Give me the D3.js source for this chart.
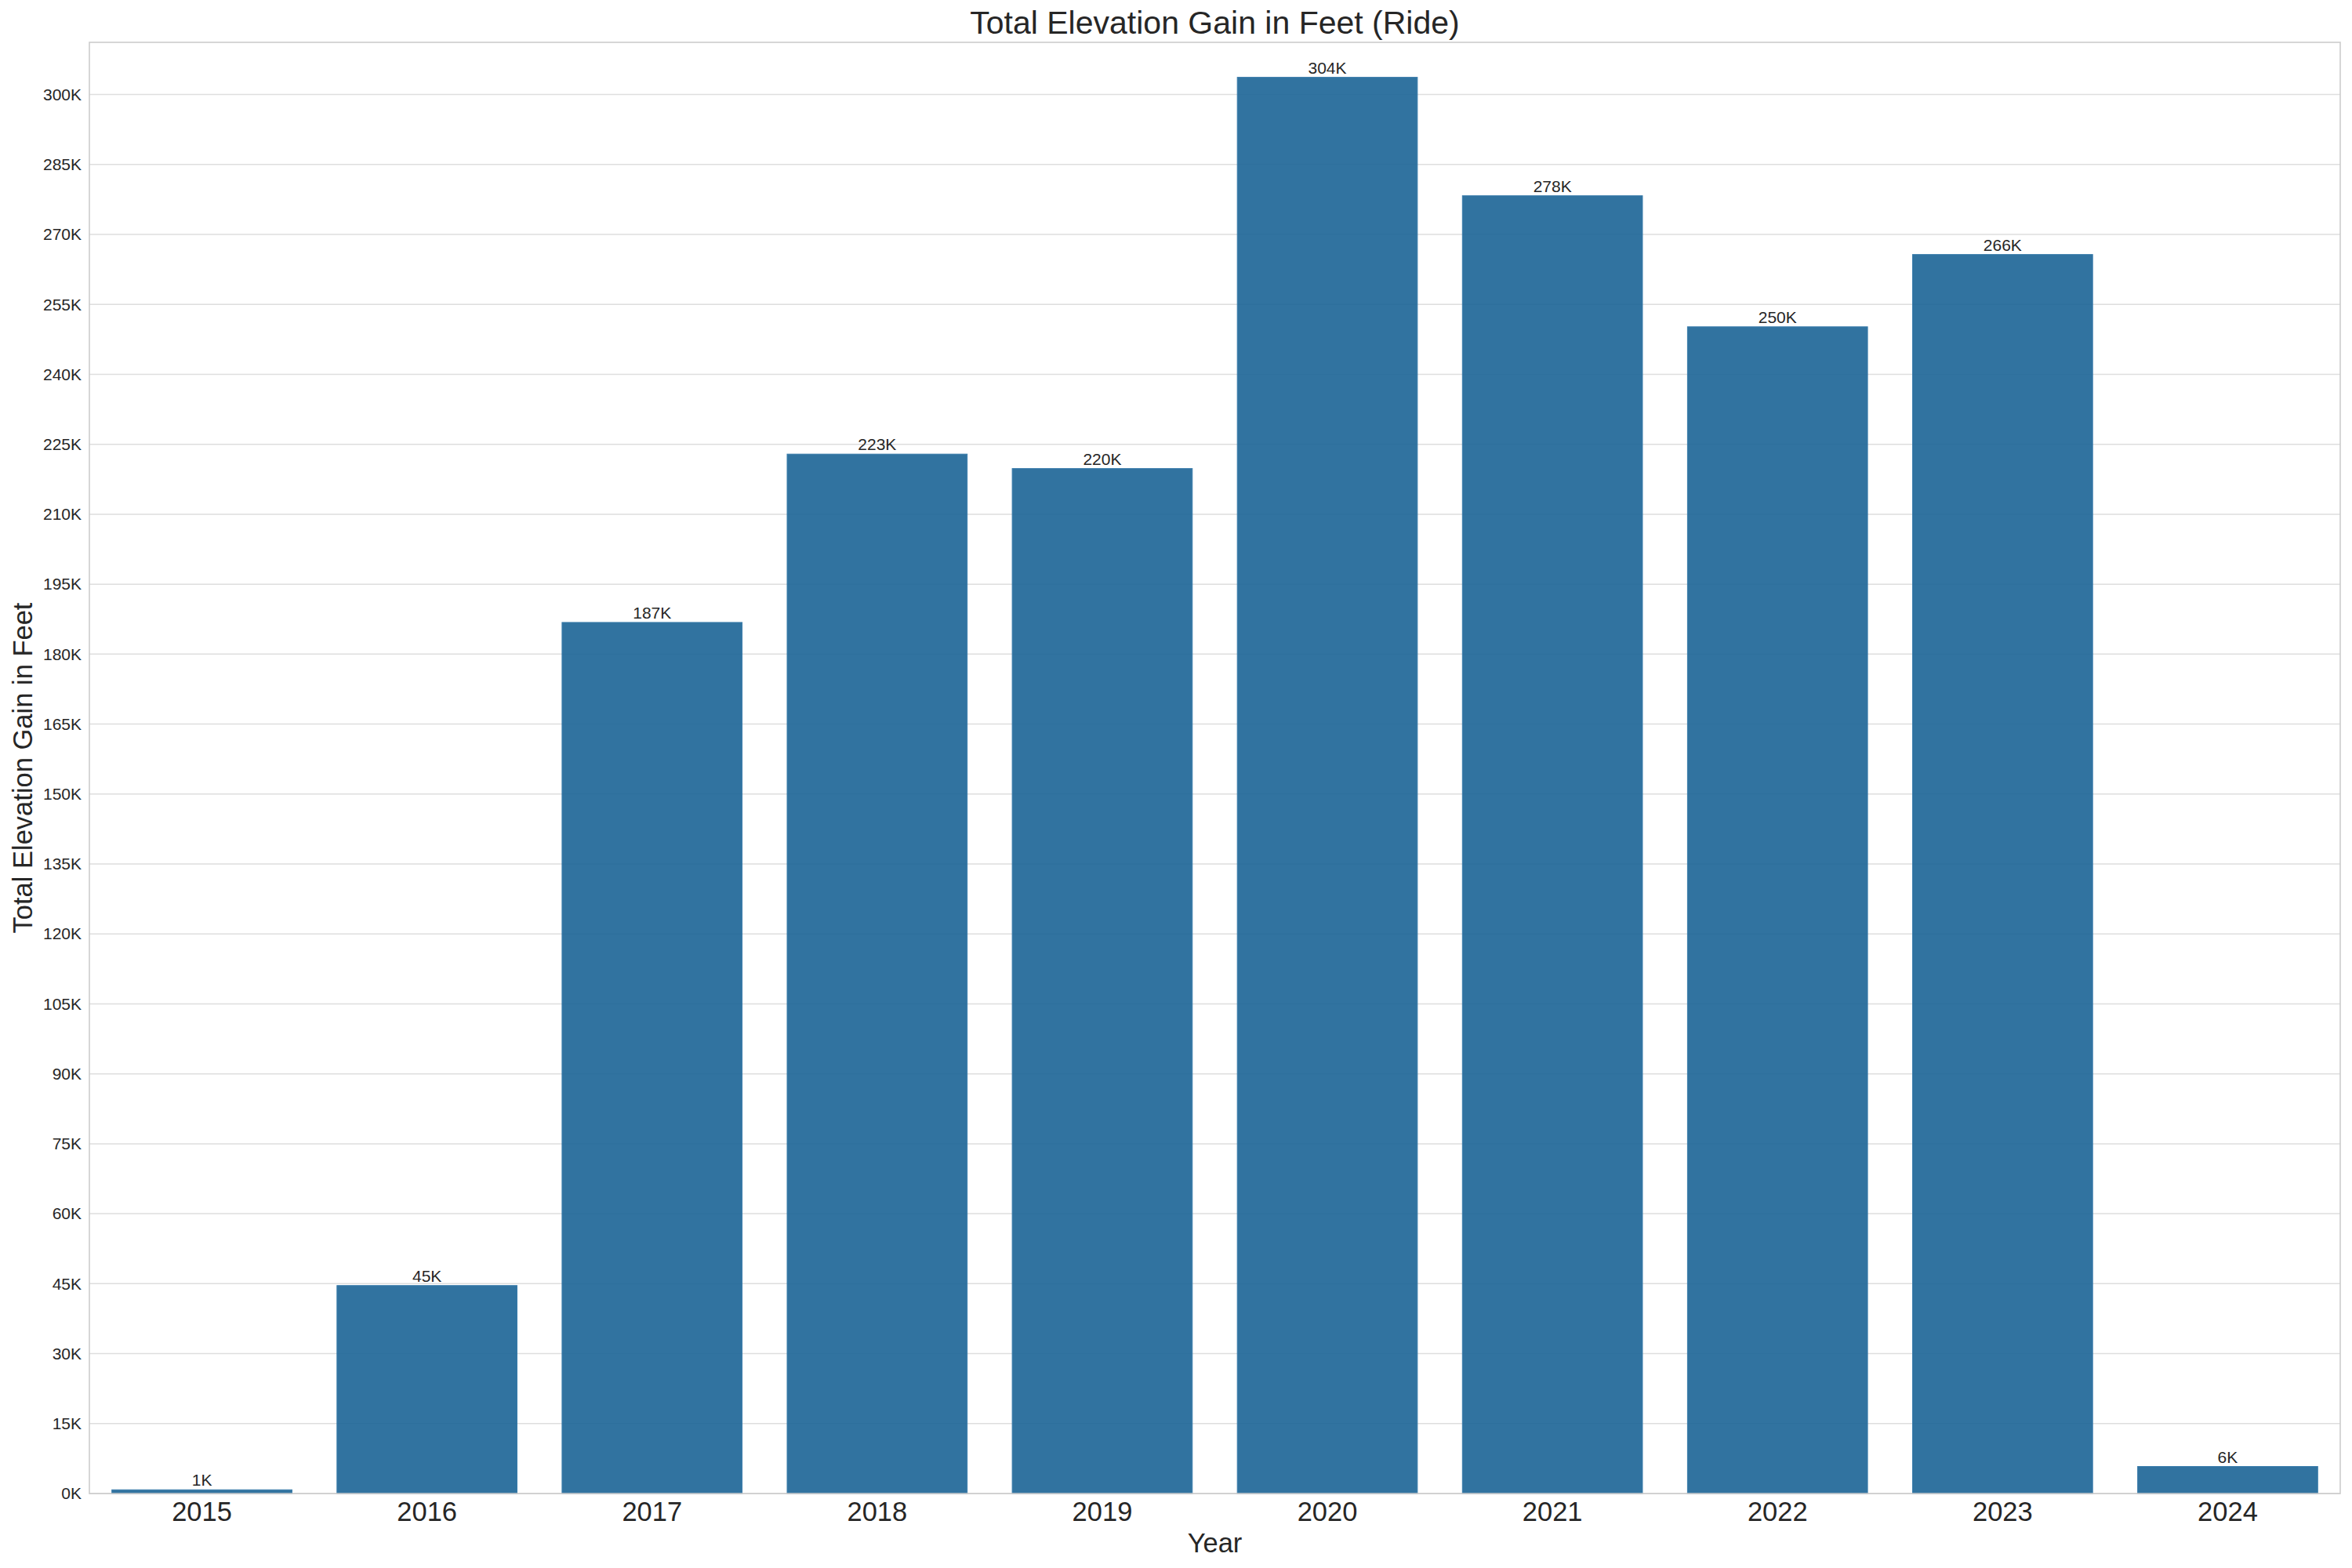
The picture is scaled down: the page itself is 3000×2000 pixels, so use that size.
<!DOCTYPE html>
<html>
<head>
<meta charset="utf-8">
<script src="https://cdn.jsdelivr.net/npm/d3@7"></script>
<style>
  body { margin: 0; background: #fff; }
  text { font-family: "Liberation Sans", Arial, sans-serif; fill: #262626; }
</style>
</head>
<body>
<div id="chart"></div>
<script>
// data
const years = ["2015", "2016", "2017", "2018", "2019", "2020", "2021", "2022", "2023", "2024"];
const elevation = [800, 44600, 186800, 222900, 219800, 303700, 278300, 250200, 265700, 5800];
const yTicks = d3.range(0, 300001, 15000);

const W = 3000, H = 2000;
const margin = {top: 54, right: 15, bottom: 95, left: 114};
const x0 = margin.left, x1 = W - margin.right,
      y0 = margin.top, y1 = H - margin.bottom;

const svg = d3.select("#chart")
    .append("svg")
    .attr("width", W)
    .attr("height", H)
    .style("display", "block");

svg.append("rect").attr("width", W).attr("height", H).attr("fill", "#fff");

// scales
const x = d3.scaleBand()
    .domain(years)
    .range([x0, x1])
    .paddingInner(0.2)
    .paddingOuter(0.1);

const y = d3.scaleLinear()
    .domain([0, 311200])
    .range([y1, y0]);

// grid
svg.append("g")
    .selectAll("line")
    .data(yTicks)
    .join("line")
    .attr("x1", x0)
    .attr("x2", x1)
    .attr("y1", d => y(d))
    .attr("y2", d => y(d))
    .attr("stroke", "#dedede")
    .attr("stroke-width", 1.5);

// bars
svg.append("g")
    .selectAll("rect")
    .data(elevation)
    .join("rect")
    .attr("x", (d, i) => x(years[i]))
    .attr("y", d => y(d))
    .attr("width", x.bandwidth())
    .attr("height", d => y1 - y(d))
    .attr("fill", "#1b6496")
    .attr("fill-opacity", 0.9)
    .attr("stroke", "#3a7cab")
    .attr("stroke-width", 1);

// bar labels
svg.append("g")
    .selectAll("text")
    .data(elevation)
    .join("text")
    .attr("x", (d, i) => x(years[i]) + x.bandwidth() / 2)
    .attr("y", d => y(d) - 5)
    .attr("text-anchor", "middle")
    .style("font-size", "21px")
    .text(d => Math.round(d / 1000) + "K");

// frame
svg.append("rect")
    .attr("x", x0)
    .attr("y", y0)
    .attr("width", x1 - x0)
    .attr("height", y1 - y0)
    .attr("fill", "none")
    .attr("stroke", "#cccccc")
    .attr("stroke-width", 1.6);

// y axis
const yAxis = svg.append("g")
    .attr("transform", `translate(${x0},0)`)
    .call(d3.axisLeft(y).tickValues(yTicks).tickSize(0).tickPadding(10)
        .tickFormat(d => d / 1000 + "K"));
yAxis.select(".domain").remove();
yAxis.selectAll("text")
    .style("font-size", "21px")
    .style("font-family", "'Liberation Sans', Arial, sans-serif")
    .attr("fill", "#262626");

// x axis
const xAxis = svg.append("g")
    .attr("transform", `translate(0,${y1})`)
    .call(d3.axisBottom(x).tickSize(0).tickPadding(0));
xAxis.select(".domain").remove();
xAxis.selectAll("text")
    .attr("y", 35)
    .attr("dy", null)
    .style("font-size", "34.5px")
    .style("font-family", "'Liberation Sans', Arial, sans-serif")
    .attr("fill", "#262626");

// titles
const cx = (x0 + x1) / 2;
svg.append("text")
    .attr("x", cx)
    .attr("y", 43)
    .attr("text-anchor", "middle")
    .style("font-size", "41px")
    .text("Total Elevation Gain in Feet (Ride)");

svg.append("text")
    .attr("x", cx)
    .attr("y", 1980)
    .attr("text-anchor", "middle")
    .style("font-size", "34.5px")
    .text("Year");

svg.append("text")
    .attr("transform", `translate(41,${(y0 + y1) / 2}) rotate(-90)`)
    .attr("text-anchor", "middle")
    .style("font-size", "34.5px")
    .text("Total Elevation Gain in Feet");
</script>
</body>
</html>
